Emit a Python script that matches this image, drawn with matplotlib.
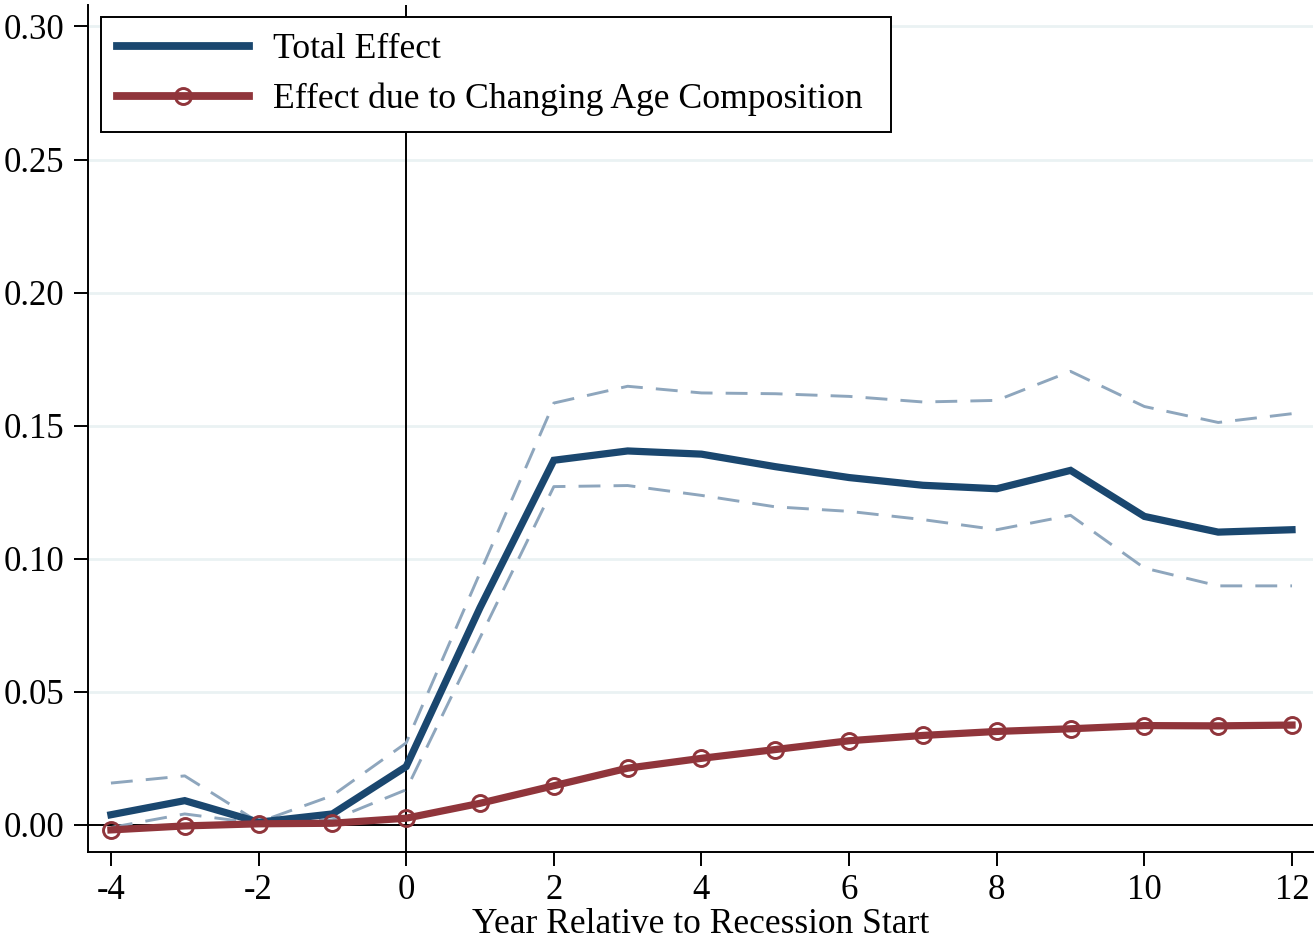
import matplotlib
matplotlib.use("Agg")
import matplotlib.pyplot as plt

plt.rcParams['font.family'] = ['Liberation Serif', 'DejaVu Serif']

years = [-4, -3, -2, -1, 0, 1, 2, 3, 4, 5, 6, 7, 8, 9, 10, 11, 12]
total = [0.0038, 0.0091, 0.0010, 0.0041, 0.0219, 0.0816, 0.1370, 0.1405, 0.1393, 0.1346,
         0.1305, 0.1276, 0.1263, 0.1332, 0.1159, 0.1100, 0.1109]
upper = [0.0157, 0.0184, 0.0010, 0.0110, 0.0308, 0.0947, 0.1585, 0.1648, 0.1623, 0.1620,
         0.1610, 0.1589, 0.1595, 0.1704, 0.1572, 0.1512, 0.1545]
lower = [-0.0010, 0.0041, 0.0005, 0.0019, 0.0132, 0.0703, 0.1271, 0.1275, 0.1238, 0.1195,
         0.1178, 0.1147, 0.1109, 0.1163, 0.0965, 0.0898, 0.0898]
age_comp = [-0.0019, -0.0004, 0.0004, 0.0006, 0.0025, 0.0081, 0.0147, 0.0213, 0.0250, 0.0283,
            0.0316, 0.0336, 0.0351, 0.0361, 0.0373, 0.0372, 0.0375]

xticks = [-4, -2, 0, 2, 4, 6, 8, 10, 12]
yticks = [0.00, 0.05, 0.10, 0.15, 0.20, 0.25, 0.30]

blue = '#1a476f'
red = '#90353b'
ci_color = '#8ea6bd'
grid_color = '#eaf2f3'

fig = plt.figure(figsize=(13.14, 9.43), dpi=100)
ax = fig.add_axes([0.067, 0.0965, 0.932, 0.898])

for yv in yticks[1:]:
    ax.axhline(yv, color=grid_color, lw=2, zorder=0)

ax.axhline(0, color='black', lw=1.4, zorder=1)
ax.axvline(0, color='black', lw=1.4, zorder=1)

ax.plot(years, upper, color=ci_color, lw=2.1, dashes=(7.5, 4.5), zorder=2)
ax.plot(years, lower, color=ci_color, lw=2.1, dashes=(7.5, 4.5), zorder=2)
ax.plot(years, total, color=blue, lw=5.2, solid_joinstyle='miter', zorder=3,
        label='Total Effect')
ax.plot(years, age_comp, color=red, lw=5.2, marker='o', markersize=11.5,
        markerfacecolor='none', markeredgecolor=red, markeredgewidth=2.1, zorder=4,
        label='Effect due to Changing Age Composition')

ax.set_xlim(-4.31, 12.28)
ax.set_ylim(-0.0102, 0.308)
ax.set_xticks(xticks)
ax.set_xticklabels([str(x) for x in xticks])
ax.set_yticks(yticks)
ax.set_yticklabels([f'{y:.2f}' for y in yticks])
ax.tick_params(axis='both', direction='out', length=10, width=1.4, labelsize=25, colors='black')
ax.tick_params(axis='x', pad=6)
ax.tick_params(axis='y', pad=7)
ax.set_xlabel('Year Relative to Recession Start', fontsize=25.5, labelpad=0.5)

ax.spines['top'].set_visible(False)
ax.spines['right'].set_visible(False)
ax.spines['left'].set_linewidth(1.4)
ax.spines['bottom'].set_linewidth(1.4)

leg = ax.legend(loc='upper left', bbox_to_anchor=(0.0106, 0.0, 0.645, 0.986), mode='expand',
                fontsize=25.7, handlelength=3.7, handletextpad=0.66, borderpad=0.45,
                labelspacing=0.47, borderaxespad=0, fancybox=False, edgecolor='black',
                framealpha=1)
leg.get_frame().set_linewidth(1.4)
for h in leg.get_lines():
    h.set_linewidth(5.6)

fig.savefig('out.png', dpi=100)
